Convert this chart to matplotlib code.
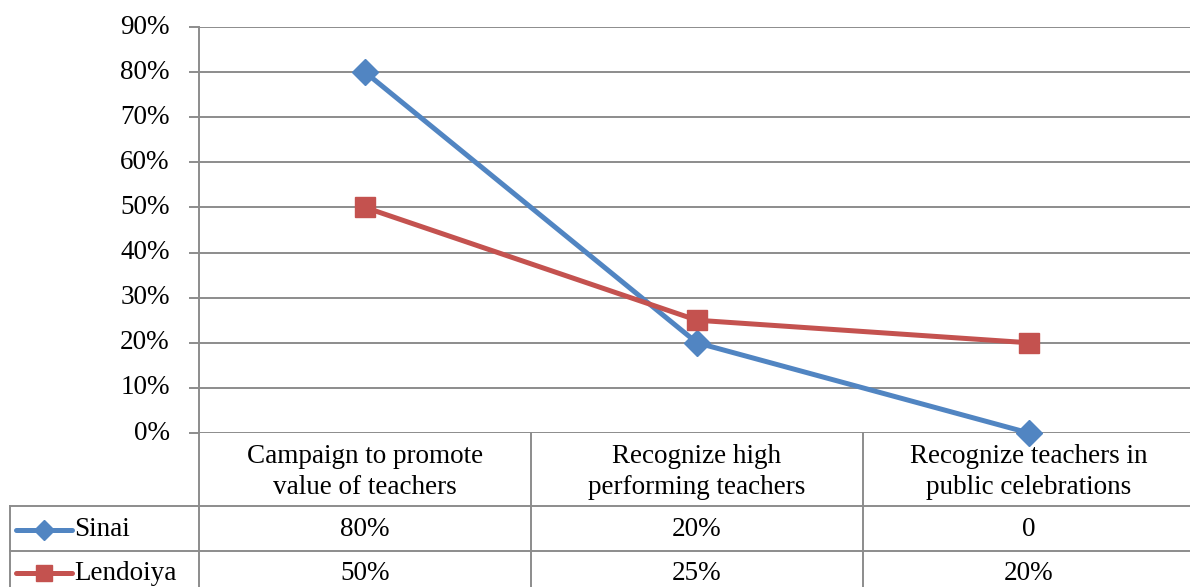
import numpy as np
import matplotlib.pyplot as plt
from matplotlib.lines import Line2D

# data
categories = ['Campaign to promote\nvalue of teachers',
              'Recognize high\nperforming teachers',
              'Recognize teachers in\npublic celebrations']
series_names = ['Sinai', 'Lendoiya']
sinai = [0.80, 0.20, 0.0]
lendoiya = [0.50, 0.25, 0.20]
sinai_labels = ['80%', '20%', '0']
lendoiya_labels = ['50%', '25%', '20%']
yticks = np.arange(0, 1.0, 0.1)

plt.rcParams['font.family'] = ['Liberation Serif', 'DejaVu Serif']
fs = 19.5
grey = '#8c8c8c'
blue = '#5185c2'
red = '#c4524f'

W, H = 1190, 587
fig = plt.figure(figsize=(W / 100, H / 100), dpi=100)

# plot area in pixels
x0, x1 = 199, 1195
y_top, y_bot = 27, 433
ax = fig.add_axes([x0 / W, 1 - y_bot / H, (x1 - x0) / W, (y_bot - y_top) / H])
x = np.arange(len(categories))
ax.plot(x, sinai, color=blue, lw=3.6, marker='D', ms=13, zorder=3, clip_on=False)
ax.plot(x, lendoiya, color=red, lw=3.6, marker='s', ms=14, zorder=3, clip_on=False)
ax.set_xlim(-0.5, 2.5)
ax.set_ylim(0, 0.9)
ax.set_yticks(yticks)
ax.set_yticklabels([f'{int(round(v * 100))}%' for v in yticks], fontsize=fs)
ax.set_xticks([])
ax.grid(axis='y', color=grey, lw=1.4)
for s in ['top', 'right', 'bottom']:
    ax.spines[s].set_visible(False)
ax.spines['left'].set_color(grey)
ax.spines['left'].set_linewidth(1.4)
ax.tick_params(axis='y', length=7, width=1.4, color=grey, pad=14)
for lab in ax.get_yticklabels():
    lab.set_verticalalignment('center')

# data table below
rows = [433, 506, 551, 596]
cat_w = (x1 - x0) / 3
leg_left = 10
tax = fig.add_axes([0, 0, 1, 1])
tax.set_xlim(0, W)
tax.set_ylim(H, 0)
tax.axis('off')
lk = dict(color=grey, lw=1.4)
# vertical lines
for i in range(1, 3):
    xx = x0 + i * cat_w
    tax.plot([xx, xx], [rows[0], rows[3]], **lk)
tax.plot([x0, x0], [rows[0], rows[3]], **lk)
tax.plot([leg_left, leg_left], [rows[1], rows[3]], **lk)
tax.plot([leg_left, x1], [rows[1], rows[1]], **lk)
tax.plot([leg_left, x1], [rows[2], rows[2]], **lk)

for i, c in enumerate(categories):
    cx = x0 + (i + 0.5) * cat_w
    tax.text(cx, 472, c, ha='center', va='center',
             fontsize=fs, linespacing=1.3)
    tax.text(cx, 530, sinai_labels[i], ha='center', va='center', fontsize=fs)
    tax.text(cx, 573, lendoiya_labels[i], ha='center', va='center', fontsize=fs)

# legend keys
for j, (name, col, mk, ms, yy) in enumerate([(series_names[0], blue, 'D', 10, 530),
                                             (series_names[1], red, 's', 12, 573)]):
    tax.add_line(Line2D([16, 72], [yy, yy], color=col, lw=3.6, solid_capstyle='round'))
    tax.plot([44], [yy], color=col, marker=mk, ms=ms)
    tax.text(74, yy, name, ha='left', va='center', fontsize=fs)

fig.savefig('out.png', dpi=100)
